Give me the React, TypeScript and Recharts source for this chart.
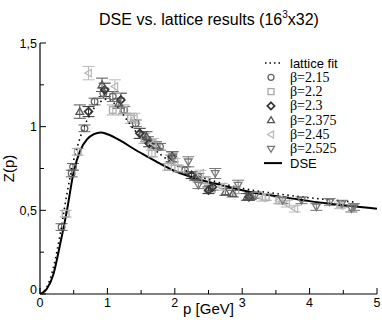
import { ComposedChart, XAxis, YAxis, Line, Scatter, ErrorBar, Legend, Label } from "recharts";

// lattice fit (dotted)
const fitP = [0, 0.1, 0.2, 0.3, 0.4, 0.5, 0.6, 0.7, 0.8, 0.9, 1.0, 1.1, 1.2, 1.3, 1.4, 1.5, 1.6, 1.8, 2.0, 2.2, 2.5, 3.0, 3.5, 4.0, 4.5, 4.7];
const fitZ = [0, 0.04, 0.16, 0.36, 0.6, 0.8, 0.94, 1.04, 1.11, 1.15, 1.165, 1.14, 1.09, 1.035, 0.98, 0.94, 0.9, 0.83, 0.775, 0.73, 0.685, 0.632, 0.6, 0.575, 0.555, 0.548];

// DSE solution (solid)
const dseP = [0, 0.1, 0.2, 0.3, 0.4, 0.5, 0.6, 0.7, 0.8, 0.9, 1.0, 1.2, 1.4, 1.6, 1.8, 2.0, 2.2, 2.4, 2.6, 2.8, 3.0, 3.25, 3.5, 3.75, 4.0, 4.25, 4.5, 4.75, 5.0];
const dseZ = [0, 0.03, 0.12, 0.3, 0.5, 0.73, 0.86, 0.925, 0.955, 0.965, 0.955, 0.915, 0.865, 0.82, 0.775, 0.735, 0.705, 0.68, 0.66, 0.64, 0.62, 0.6, 0.585, 0.57, 0.555, 0.542, 0.53, 0.52, 0.51];

// lattice data, one block per beta
const b215P = [0.32, 0.47, 0.49, 0.66, 0.81, 0.94, 1.08, 1.25, 1.42, 1.52, 1.6, 1.78, 1.95, 2.15, 2.35, 2.52];
const b215Z = [0.4, 0.72, 0.76, 0.99, 1.15, 1.2, 1.18, 1.1, 1.02, 0.95, 0.92, 0.88, 0.81, 0.74, 0.7, 0.63];
const b215E = [0.02, 0.02, 0.02, 0.02, 0.02, 0.03, 0.03, 0.02, 0.02, 0.02, 0.02, 0.02, 0.02, 0.02, 0.02, 0.02];

const b22P = [0.38, 0.56, 1.08, 1.24, 1.35, 1.55, 1.66, 1.9, 2.05, 2.45, 2.9, 3.35, 3.55];
const b22Z = [0.48, 0.85, 1.1, 1.1, 1.05, 0.93, 0.84, 0.76, 0.75, 0.68, 0.62, 0.58, 0.56];
const b22E = [0.02, 0.02, 0.03, 0.03, 0.03, 0.03, 0.02, 0.02, 0.02, 0.02, 0.02, 0.02, 0.02];

const b23P = [0.72, 0.96, 1.2, 1.48, 1.62, 1.96, 2.25, 2.5, 2.56, 3.1];
const b23Z = [1.09, 1.22, 1.16, 0.96, 0.9, 0.82, 0.71, 0.62, 0.64, 0.58];
const b23E = [0.03, 0.04, 0.04, 0.03, 0.02, 0.03, 0.02, 0.02, 0.02, 0.02];

const b2375P = [0.59, 0.92, 1.17, 1.58, 1.72, 2.3, 2.75, 2.86, 3.07, 3.12];
const b2375Z = [1.09, 1.25, 1.14, 0.94, 0.89, 0.7, 0.61, 0.6, 0.58, 0.585];
const b2375E = [0.04, 0.04, 0.03, 0.03, 0.02, 0.02, 0.02, 0.02, 0.02, 0.02];

const b245P = [0.72, 1.11, 1.4, 1.68, 2.0, 2.38, 2.7, 3.3, 3.55, 3.66, 3.78, 4.45];
const b245Z = [1.32, 1.24, 1.05, 0.9, 0.79, 0.72, 0.64, 0.575, 0.56, 0.54, 0.51, 0.53];
const b245E = [0.04, 0.04, 0.03, 0.03, 0.02, 0.02, 0.02, 0.02, 0.02, 0.02, 0.02, 0.02];

const b2525P = [1.97, 2.2, 2.35, 2.6, 2.94, 3.2, 3.6, 3.88, 4.1, 4.3, 4.48, 4.62, 4.66];
const b2525Z = [0.82, 0.79, 0.65, 0.72, 0.65, 0.59, 0.56, 0.56, 0.52, 0.55, 0.54, 0.51, 0.52];
const b2525E = [0.03, 0.03, 0.02, 0.03, 0.03, 0.02, 0.02, 0.02, 0.02, 0.02, 0.02, 0.02, 0.02];

const xTicks = [0, 0.5, 1, 1.5, 2, 2.5, 3, 3.5, 4, 4.5, 5];
const yTicks = [0, 0.25, 0.5, 0.75, 1, 1.25, 1.5];
const yLabels: Record<string, string> = { "0": "0", "0.5": "0,5", "1": "1", "1.5": "1,5" };

const curve = (ps: number[], zs: number[]) => ps.map((p, i) => ({ p, z: zs[i] }));
const pts = (ps: number[], zs: number[], es: number[]) => ps.map((p, i) => ({ p, z: zs[i], e: es[i] }));

type Kind = "circle" | "square" | "diamond" | "up" | "left" | "down";

const series: { name: string; kind: Kind; color: string; data: { p: number; z: number; e: number }[] }[] = [
  { name: "β=2.15", kind: "circle", color: "#666", data: pts(b215P, b215Z, b215E) },
  { name: "β=2.2", kind: "square", color: "#aaa", data: pts(b22P, b22Z, b22E) },
  { name: "β=2.3", kind: "diamond", color: "#333", data: pts(b23P, b23Z, b23E) },
  { name: "β=2.375", kind: "up", color: "#555", data: pts(b2375P, b2375Z, b2375E) },
  { name: "β=2.45", kind: "left", color: "#bbb", data: pts(b245P, b245Z, b245E) },
  { name: "β=2.525", kind: "down", color: "#777", data: pts(b2525P, b2525Z, b2525E) },
];

const W = 382;
const H = 327;
const SANS = "'Liberation Sans', Arial, Helvetica, sans-serif";
const SERIF = "'Liberation Serif', 'Times New Roman', serif";

function marker(kind: Kind, cx: number, cy: number, color: string, s = 3.3) {
  const common = { fill: "none", stroke: color, strokeWidth: 1.3 };
  switch (kind) {
    case "circle":
      return <circle cx={cx} cy={cy} r={s} {...common} />;
    case "square":
      return <rect x={cx - s} y={cy - s} width={2 * s} height={2 * s} {...common} />;
    case "diamond":
      return <polygon points={`${cx},${cy - s - 0.6} ${cx + s + 0.6},${cy} ${cx},${cy + s + 0.6} ${cx - s - 0.6},${cy}`} {...common} strokeWidth={1.7} />;
    case "up":
      return <polygon points={`${cx},${cy - s - 0.5} ${cx + s + 0.5},${cy + s - 0.5} ${cx - s - 0.5},${cy + s - 0.5}`} {...common} />;
    case "left":
      return <polygon points={`${cx - s - 0.5},${cy} ${cx + s - 0.5},${cy - s - 0.5} ${cx + s - 0.5},${cy + s + 0.5}`} {...common} />;
    default:
      return <polygon points={`${cx - s - 0.5},${cy - s + 0.5} ${cx + s + 0.5},${cy - s + 0.5} ${cx},${cy + s + 0.5}`} {...common} />;
  }
}

const MARGIN = 4;

function BottomTick(props: any) {
  const { x, y, payload } = props;
  const v = payload.value as number;
  const axisY = y - MARGIN;
  const major = Number.isInteger(v);
  return (
    <g>
      <line x1={x} x2={x} y1={axisY} y2={axisY - (major ? 6 : 4)} stroke="#000" strokeWidth={1} />
      {major && (
        <text x={x} y={axisY + 13} textAnchor="middle" fontSize={12.5} fontFamily={SANS} fill="#000">
          {v}
        </text>
      )}
    </g>
  );
}

function LeftTick(props: any) {
  const { x, y, payload } = props;
  const v = payload.value as number;
  const axisX = x + MARGIN;
  const lab = yLabels[String(v)];
  return (
    <g>
      <line x1={axisX} x2={axisX + (lab ? 6 : 4)} y1={y} y2={y} stroke="#000" strokeWidth={1} />
      {lab && (
        <text x={axisX - 3} y={y + (v === 0 ? 0 : 4.5)} textAnchor="end" fontSize={12.5} fontFamily={SANS} fill="#000">
          {lab}
        </text>
      )}
    </g>
  );
}

function TopTick(props: any) {
  const { x, y, payload } = props;
  const major = Number.isInteger(payload.value);
  return <line x1={x} x2={x} y1={y} y2={y + (major ? 6 : 4)} stroke="#000" strokeWidth={1} />;
}

function RightTick(props: any) {
  const { x, y, payload } = props;
  const major = yLabels[String(payload.value)] !== undefined;
  return <line x1={x} x2={x - (major ? 6 : 4)} y1={y} y2={y} stroke="#000" strokeWidth={1} />;
}

function LegendBox() {
  const rowH = 14.3;
  return (
    <svg width={90} height={118} style={{ display: "block" }}>
      <line x1={7} x2={24} y1={8} y2={8} stroke="#000" strokeWidth={1.5} strokeDasharray="1.5 3" />
      <text x={32} y={12.5} fontSize={13} fontFamily={SANS}>lattice fit</text>
      {series.map((s, i) => {
        const cy = 8 + (i + 1) * rowH;
        return (
          <g key={s.name}>
            {marker(s.kind, 13, cy, s.color, 3)}
            <text x={32} y={cy + 4.5} fontSize={14} style={{ fontFamily: SERIF }}>{s.name}</text>
          </g>
        );
      })}
      <line x1={6} x2={24} y1={8 + 7 * rowH} y2={8 + 7 * rowH} stroke="#000" strokeWidth={2} />
      <text x={32} y={8 + 7 * rowH + 4.5} fontSize={13} fontFamily={SANS}>DSE</text>
    </svg>
  );
}

export default function App() {
  return (
    <div style={{ position: "absolute", left: 0, top: 0, width: W, height: H, background: "#fff" }}>
      <div
        style={{
          position: "absolute",
          top: 12,
          left: 0,
          width: 418,
          textAlign: "center",
          fontFamily: SANS,
          fontSize: 16,
          lineHeight: "16px",
          color: "#000",
        }}
      >
        DSE vs. lattice results (16<span style={{ fontSize: 10, position: "relative", top: -7 }}>3</span>x32)
      </div>
      <ComposedChart width={W} height={H} margin={{ top: 43, right: 5, left: 0, bottom: 0 }}>
        <XAxis
          xAxisId="b"
          dataKey="p"
          type="number"
          domain={[0, 5]}
          ticks={xTicks}
          interval={0}
          height={33}
          tickSize={0}
          tickMargin={MARGIN}
          tick={BottomTick}
          axisLine={{ stroke: "#000", strokeWidth: 1.2 }}
          allowDataOverflow
        >
          <Label
            content={(props: any) => {
              const vb = props.viewBox;
              return (
                <text x={vb.x + vb.width / 2} y={H - 13} textAnchor="middle" fontSize={15} fontFamily={SANS} fill="#000">
                  p [GeV]
                </text>
              );
            }}
          />
        </XAxis>
        <XAxis
          xAxisId="t"
          orientation="top"
          type="number"
          domain={[0, 5]}
          ticks={xTicks}
          interval={0}
          height={0}
          tickSize={0}
          tickMargin={0}
          tick={TopTick}
          axisLine={{ stroke: "#000", strokeWidth: 1.2 }}
          allowDataOverflow
        />
        <YAxis
          yAxisId="l"
          dataKey="z"
          type="number"
          domain={[0, 1.5]}
          ticks={yTicks}
          interval={0}
          width={40}
          tickSize={0}
          tickMargin={MARGIN}
          tick={LeftTick}
          axisLine={{ stroke: "#000", strokeWidth: 1.2 }}
          allowDataOverflow
        >
          <Label
            content={(props: any) => {
              const vb = props.viewBox;
              const cx = 14;
              const cy = vb.y + vb.height / 2;
              return (
                <text x={cx} y={cy} transform={`rotate(-90 ${cx} ${cy})`} textAnchor="middle" fontSize={15} fontFamily={SANS} fill="#000">
                  Z(p)
                </text>
              );
            }}
          />
        </YAxis>
        <YAxis
          yAxisId="r"
          orientation="right"
          type="number"
          domain={[0, 1.5]}
          ticks={yTicks}
          interval={0}
          width={0}
          tickSize={0}
          tickMargin={0}
          tick={RightTick}
          axisLine={{ stroke: "#000", strokeWidth: 1.2 }}
          allowDataOverflow
        />
        <Legend
          layout="vertical"
          align="center"
          verticalAlign="middle"
          wrapperStyle={{ top: 55, left: 258, width: 90, height: 118 }}
          content={() => <LegendBox />}
        />
        {series.map((s) => (
          <Scatter
            key={s.name}
            name={s.name}
            xAxisId="b"
            yAxisId="l"
            data={s.data}
            dataKey="z"
            isAnimationActive={false}
            shape={(pr: any) => marker(s.kind, pr.cx, pr.cy, s.color)}
          >
            <ErrorBar dataKey="e" direction="y" width={6} stroke={s.color} strokeWidth={1} />
          </Scatter>
        ))}
        <Line
          xAxisId="b"
          yAxisId="l"
          data={curve(fitP, fitZ)}
          dataKey="z"
          type="monotone"
          stroke="#000"
          strokeWidth={1.6}
          strokeDasharray="1.5 3.5"
          dot={false}
          isAnimationActive={false}
        />
        <Line
          xAxisId="b"
          yAxisId="l"
          data={curve(dseP, dseZ)}
          dataKey="z"
          type="monotone"
          stroke="#000"
          strokeWidth={2}
          dot={false}
          isAnimationActive={false}
        />
      </ComposedChart>
    </div>
  );
}
